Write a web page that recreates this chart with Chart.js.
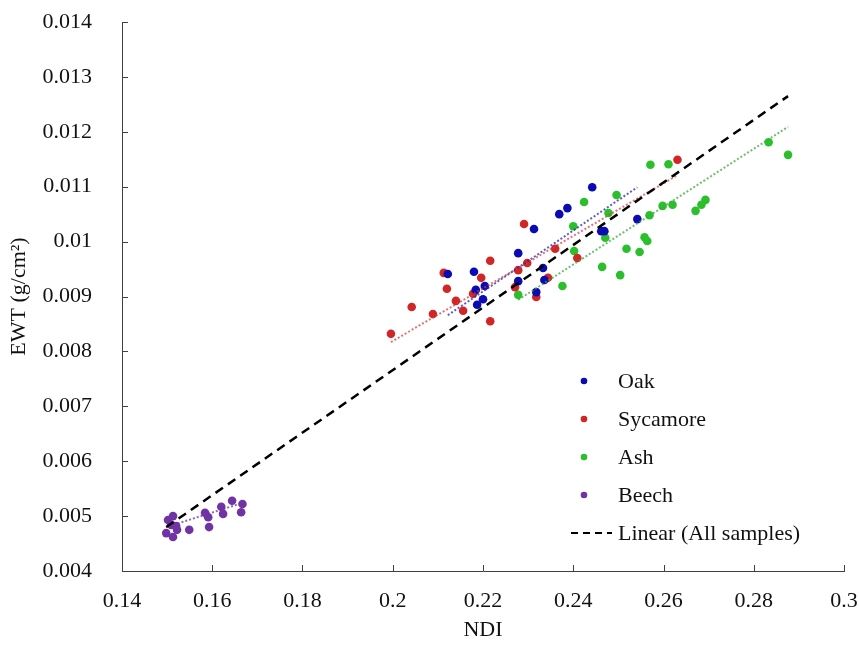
<!DOCTYPE html>
<html>
<head>
<meta charset="utf-8">
<script src="https://cdn.jsdelivr.net/npm/chart.js@4.4.1/dist/chart.umd.min.js"></script>
<style>
  html, body { margin: 0; padding: 0; background: #fff; }
  #wrap { width: 859px; height: 648px; }
</style>
</head>
<body>
<div id="wrap"><canvas id="chart" width="859" height="648"></canvas></div>
<script>
// ============================================================
// DATA — NDI vs EWT
// ============================================================

const oakNdi = [0.2122, 0.2180, 0.2204, 0.2184, 0.2200, 0.2187, 0.2278, 0.2278, 0.2313, 0.2318, 0.2333, 0.2336, 0.2369, 0.2387, 0.2442, 0.2462, 0.2469, 0.2542];
const oakEwt = [0.00941, 0.00945, 0.00919, 0.00912, 0.00895, 0.00885, 0.00979, 0.00928, 0.01023, 0.00908, 0.00952, 0.00930, 0.01050, 0.01061, 0.01099, 0.01019, 0.01019, 0.01041];

const sycNdi = [0.1996, 0.2042, 0.2089, 0.2113, 0.2120, 0.2140, 0.2156, 0.2178, 0.2196, 0.2216, 0.2216, 0.2271, 0.2278, 0.2291, 0.2298, 0.2318, 0.2344, 0.2360, 0.2409, 0.2631];
const sycEwt = [0.00832, 0.00881, 0.00868, 0.00943, 0.00914, 0.00892, 0.00874, 0.00905, 0.00934, 0.00965, 0.00855, 0.00917, 0.00948, 0.01032, 0.00961, 0.00899, 0.00934, 0.00987, 0.00970, 0.01149];

const ashNdi = [0.2278, 0.2376, 0.2400, 0.2402, 0.2424, 0.2464, 0.2471, 0.2478, 0.2496, 0.2504, 0.2518, 0.2547, 0.2558, 0.2564, 0.2569, 0.2571, 0.2598, 0.2611, 0.2620, 0.2671, 0.2684, 0.2693, 0.2833, 0.2876];
const ashEwt = [0.00903, 0.00919, 0.01028, 0.00983, 0.01072, 0.00954, 0.01007, 0.01052, 0.01085, 0.00939, 0.00987, 0.00981, 0.01008, 0.01001, 0.01048, 0.01140, 0.01065, 0.01141, 0.01067, 0.01056, 0.01067, 0.01076, 0.01181, 0.01158];

const beechNdi = [0.1502, 0.1513, 0.1509, 0.1520, 0.1498, 0.1513, 0.1522, 0.1549, 0.1584, 0.1591, 0.1593, 0.1620, 0.1624, 0.1644, 0.1667, 0.1664];
const beechEwt = [0.00493, 0.00500, 0.00484, 0.00482, 0.00469, 0.00462, 0.00475, 0.00475, 0.00506, 0.00498, 0.00480, 0.00517, 0.00504, 0.00528, 0.00522, 0.00507];

// trendline end points (as drawn in the figure)
const oakTrendNdi   = [0.2122, 0.2542];  const oakTrendEwt   = [0.00866, 0.01099];
const sycTrendNdi   = [0.1996, 0.2631];  const sycTrendEwt   = [0.00817, 0.01121];
const ashTrendNdi   = [0.2278, 0.2876];  const ashTrendEwt   = [0.00894, 0.01209];
const beechTrendNdi = [0.1498, 0.1667];  const beechTrendEwt = [0.00480, 0.00524];
const allTrendNdi   = [0.1498, 0.2876];  const allTrendEwt   = [0.00480, 0.01265];

const xTicks = [0.14, 0.16, 0.18, 0.20, 0.22, 0.24, 0.26, 0.28, 0.30];
const xTickLabels = ['0.14', '0.16', '0.18', '0.2', '0.22', '0.24', '0.26', '0.28', '0.3'];
const yTicks = [0.004, 0.005, 0.006, 0.007, 0.008, 0.009, 0.010, 0.011, 0.012, 0.013, 0.014];
const yTickLabels = ['0.004', '0.005', '0.006', '0.007', '0.008', '0.009', '0.01', '0.011', '0.012', '0.013', '0.014'];

// ============================================================
// STYLE
// ============================================================

const FONT = '"Liberation Serif", "Times New Roman", serif';
const TEXT = '#111';
const AXIS = '#404040';
const C = { oak: '#0b0bb4', syc: '#d02626', ash: '#2cbf2c', beech: '#7033a3' };

const pts = (xs, ys) => xs.map((x, i) => ({ x, y: ys[i] }));

function scatterSet(label, xs, ys, color) {
  return { type: 'scatter', label, data: pts(xs, ys), backgroundColor: color, borderColor: color,
    pointRadius: 4.3, pointHoverRadius: 4.3, borderWidth: 0, order: 2, showLine: false };
}
function trendSet(label, xs, ys, color, dash, width) {
  return { type: 'line', label, data: pts(xs, ys), borderColor: color, borderWidth: width, borderDash: dash,
    pointRadius: 0, fill: false, tension: 0, order: 1, trend: true };
}

// inside tick marks, Excel style
const tickMarks = {
  id: 'tickMarks',
  afterDraw(chart) {
    const { ctx, chartArea: a, scales: { x, y } } = chart;
    ctx.save();
    ctx.strokeStyle = AXIS; ctx.lineWidth = 1;
    ctx.beginPath();
    xTicks.forEach(v => { const px = Math.round(x.getPixelForValue(v)) + 0.5; ctx.moveTo(px, a.bottom); ctx.lineTo(px, a.bottom - 6); });
    yTicks.forEach(v => { const py = Math.round(y.getPixelForValue(v)) + 0.5; ctx.moveTo(a.left, py); ctx.lineTo(a.left + 6, py); });
    ctx.stroke();
    ctx.restore();
  }
};

// legend inside the plot, lower right
const insideLegend = {
  id: 'insideLegend',
  afterDraw(chart) {
    const { ctx } = chart;
    const items = chart.data.datasets.filter(d => !d.trend || d.legendLine);
    ctx.save();
    ctx.font = `22px ${FONT}`;
    ctx.textBaseline = 'middle';
    ctx.fillStyle = TEXT;
    items.forEach((d, i) => {
      const y = 381 + i * 38;
      if (d.legendLine) {
        ctx.strokeStyle = d.borderColor; ctx.lineWidth = 2; ctx.setLineDash([7, 5]);
        ctx.beginPath(); ctx.moveTo(571, y); ctx.lineTo(612, y); ctx.stroke(); ctx.setLineDash([]);
      } else {
        ctx.fillStyle = d.backgroundColor;
        ctx.beginPath(); ctx.arc(584, y, 3.3, 0, Math.PI * 2); ctx.fill();
      }
      ctx.fillStyle = TEXT;
      ctx.fillText(d.label, 618, y + 1);
    });
    ctx.restore();
  }
};

const allLine = trendSet('Linear (All samples)', allTrendNdi, allTrendEwt, '#000', [9, 6], 2.5);
allLine.legendLine = true;
allLine.order = 0;

// stop label overflow from pushing the plot area in
const noOverflow = s => { s.paddingTop = 0; s.paddingBottom = 0; s.paddingLeft = 0; s.paddingRight = 0; };

new Chart(document.getElementById('chart'), {
  data: {
    datasets: [
      scatterSet('Oak', oakNdi, oakEwt, C.oak),
      scatterSet('Sycamore', sycNdi, sycEwt, C.syc),
      scatterSet('Ash', ashNdi, ashEwt, C.ash),
      scatterSet('Beech', beechNdi, beechEwt, C.beech),
      trendSet('Oak trend', oakTrendNdi, oakTrendEwt, 'rgba(40,40,170,0.75)', [2, 2], 2),
      trendSet('Sycamore trend', sycTrendNdi, sycTrendEwt, 'rgba(210,60,60,0.7)', [2, 2], 2),
      trendSet('Ash trend', ashTrendNdi, ashTrendEwt, 'rgba(60,170,60,0.75)', [2, 2], 2),
      trendSet('Beech trend', beechTrendNdi, beechTrendEwt, 'rgba(112,51,163,0.75)', [2, 2], 2),
      allLine
    ]
  },
  options: {
    responsive: false,
    animation: false,
    layout: { padding: { top: 22, right: 15, left: 0, bottom: 0 } },
    plugins: { legend: { display: false }, tooltip: { enabled: false } },
    scales: {
      x: {
        type: 'linear', min: 0.14, max: 0.30,
        afterBuildTicks: s => { s.ticks = xTicks.map(value => ({ value })); },
        afterFit: s => { s.height = 77; noOverflow(s); },
        grid: { display: false, drawTicks: false },
        border: { display: true, color: AXIS, width: 1 },
        ticks: { autoSkip: false, maxRotation: 0, padding: 17, color: TEXT, font: { family: FONT, size: 22 },
          callback: (v, i) => xTickLabels[i] },
        title: { display: true, text: 'NDI', color: TEXT, font: { family: FONT, size: 22 }, padding: { top: 0, bottom: 5 } }
      },
      y: {
        type: 'linear', min: 0.004, max: 0.014,
        afterBuildTicks: s => { s.ticks = yTicks.map(value => ({ value })); },
        afterFit: s => { s.width = 122; noOverflow(s); },
        grid: { display: false, drawTicks: false },
        border: { display: true, color: AXIS, width: 1 },
        ticks: { autoSkip: false, padding: 30, color: TEXT, font: { family: FONT, size: 22 },
          callback: (v, i) => yTickLabels[i] },
        title: { display: true, text: 'EWT (g/cm²)', color: TEXT, font: { family: FONT, size: 22 }, padding: { top: 6, bottom: 0 } }
      }
    }
  },
  plugins: [tickMarks, insideLegend]
});
</script>
</body>
</html>
